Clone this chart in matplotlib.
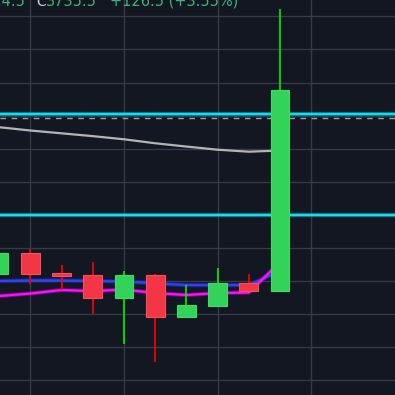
import matplotlib
matplotlib.use("Agg")
import matplotlib.pyplot as plt

# candle data (index 0 is partially off the left edge)
opens = [3624.5, 3636.8, 3624.9, 3623.7, 3610.0, 3623.7, 3598.5, 3605.1, 3618.9, 3614.2]
highs = [3637.5, 3639.4, 3629.7, 3631.6, 3626.1, 3624.5, 3617.7, 3627.9, 3624.3, 3784.4]
lows = [3624.0, 3618.4, 3614.6, 3600.3, 3582.2, 3571.3, 3598.5, 3605.1, 3613.5, 3614.2]
closes = [3636.8, 3624.5, 3623.3, 3610.0, 3623.7, 3598.5, 3605.6, 3618.9, 3614.2, 3735.5]

# moving averages
ma_slow = [3713.0, 3711.0, 3709.3, 3707.6, 3705.7, 3703.3, 3701.3, 3699.4, 3698.2, 3698.9]
ma_blue = [3620.1, 3620.4, 3620.4, 3620.1, 3619.8, 3618.6, 3617.6, 3617.6, 3617.6, 3626.1]
ma_pink = [3611.0, 3612.5, 3614.6, 3614.0, 3614.9, 3612.8, 3611.6, 3612.8, 3613.1, 3631.5]

# horizontal levels
levels = [3720.8, 3659.8]
last_line = 3718.4

header_left = "L3614.5"
header_close = "3735.5"
header_change = "+126.5 (+3.55%)"

BG = "#131722"
GRID = "#363a45"
UP = "#33d35a"
DOWN = "#f23645"

fig = plt.figure(figsize=(3.95, 3.95), dpi=100, facecolor=BG)
ax = fig.add_axes([0, 0, 1, 1], facecolor=BG)

x = list(range(len(opens)))

# grid
for gx in [1, 4, 7, 10]:
    ax.axvline(gx, color=GRID, lw=1.0, zorder=0)
for gy in range(3560, 3800, 20):
    ax.axhline(gy, color=GRID, lw=1.0, zorder=0)

# moving averages, behind the candles
ax.plot(x, ma_slow, color="#b4b4b4", lw=1.6, zorder=2, solid_capstyle="round")
ax.plot(x, ma_blue, color="#2b35ff", lw=3.0, alpha=0.45, zorder=2)
ax.plot(x, ma_blue, color="#3040ff", lw=1.6, zorder=2)
ax.plot(x, ma_pink, color="#ff00ff", lw=3.0, alpha=0.4, zorder=2)
ax.plot(x, ma_pink, color="#ff10ff", lw=1.6, zorder=2)

# levels
for lv in levels:
    ax.axhline(lv, color="#00bcd4", lw=3.0, alpha=0.6, zorder=2)
    ax.axhline(lv, color="#18f0ff", lw=1.2, zorder=2)
ax.axhline(last_line, color="#a0a0a0", lw=1.0, ls=(0, (4, 4)), zorder=2)

# candles
w = 0.6
for i in x:
    up = closes[i] >= opens[i]
    body_c = UP if up else DOWN
    edge_c = "#3fdc66" if up else "#f7515e"
    wick_c = "#00f000" if up else "#ff0000"
    ax.vlines(i, lows[i], highs[i], color=wick_c, lw=1.2, zorder=3)
    bottom = min(opens[i], closes[i])
    height = abs(closes[i] - opens[i])
    ax.bar(i, height, width=w, bottom=bottom, color=body_c,
           edgecolor=edge_c, linewidth=0.8, zorder=4)

ax.set_xlim(0.03, 12.68)
ax.set_ylim(3551.2, 3789.85)
ax.set_xticks([])
ax.set_yticks([])
for s in ax.spines.values():
    s.set_visible(False)

# header text, cut off at the top edge like the reference
ty = 1 - 6 / 395
green_txt = "#3bb377"
fig.text(26 / 395, ty, header_left, color=green_txt, fontsize=10.5, ha="right", va="baseline")
fig.text(36 / 395, ty, "C", color="#d1d4dc", fontsize=10, ha="left", va="baseline")
fig.text(46 / 395, ty, header_close, color=green_txt, fontsize=10.5, ha="left", va="baseline")
fig.text(110 / 395, ty, header_change, color=green_txt, fontsize=10.5, ha="left", va="baseline")

fig.savefig("out.png", dpi=100, facecolor=BG)
